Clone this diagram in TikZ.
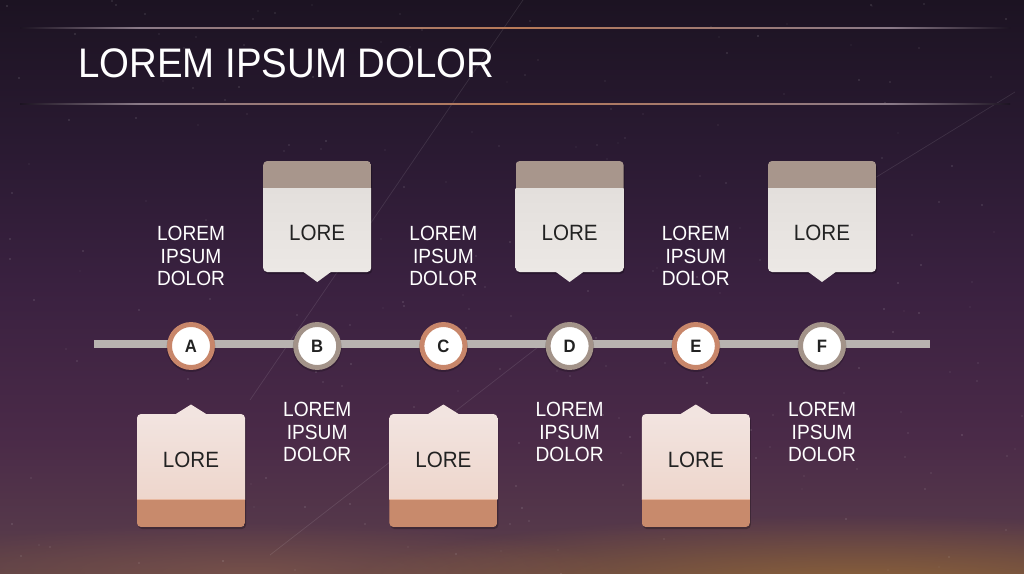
\documentclass[tikz,border=0pt]{standalone}
\usepackage{fontspec}
\setmainfont[FakeStretch=0.93]{Liberation Sans}
\usetikzlibrary{fadings}
\definecolor{bgA}{HTML}{5E4246}
\definecolor{bgB}{HTML}{55384A}
\definecolor{bgC}{HTML}{4A2A48}
\definecolor{bgD}{HTML}{3A2140}
\definecolor{bgE}{HTML}{2A1A32}
\definecolor{bgF}{HTML}{1C1322}
\definecolor{glowgold}{HTML}{B07A30}
\definecolor{glowrose}{HTML}{A06A50}
\definecolor{lineside}{HTML}{8A7A88}
\definecolor{linemid}{HTML}{B87A58}
\definecolor{barcol}{HTML}{B8B3B0}
\definecolor{ringO}{HTML}{C8866A}
\definecolor{ringG}{HTML}{A39389}
\definecolor{tophead}{HTML}{A8968C}
\definecolor{topbodyA}{HTML}{E3DFDC}
\definecolor{topbodyB}{HTML}{ECE8E5}
\definecolor{botbodyA}{HTML}{F2E4E0}
\definecolor{botbodyB}{HTML}{EED6CC}
\definecolor{botband}{HTML}{C88A6C}
\definecolor{botbandline}{HTML}{E8B8A0}
\definecolor{loretext}{HTML}{222222}
\pgfdeclareverticalshading{skybg}{100bp}{color(0bp)=(bgA); color(25bp)=(bgA); color(29bp)=(bgB); color(37bp)=(bgC); color(50bp)=(bgD); color(62bp)=(bgE); color(75bp)=(bgF); color(100bp)=(bgF)}
\pgfdeclarehorizontalshading{tline}{100bp}{color(0bp)=(bgF); color(25bp)=(bgF); color(31bp)=(lineside); color(50bp)=(linemid); color(69bp)=(lineside); color(75bp)=(bgF); color(100bp)=(bgF)}
\tikzfading[name=softglow, inner color=transparent!0, outer color=transparent!100]
\begin{document}
\begin{tikzpicture}[x=0.02cm,y=-0.02cm,
  lbl/.style={text=white, align=center, font=\fontsize{11.7}{13}\selectfont},
  lore/.style={text=loretext, font=\fontsize{12.6}{15}\selectfont},
  ringnode/.style={circle, fill=white, draw=#1, line width=2.8pt, minimum size=0.86cm, inner sep=0pt, text=loretext, font=\bfseries\fontsize{10.2}{12}\selectfont},
  bar/.style={barcol, line width=4.5pt},
  cshadow/.style={black, opacity=0.25, rounded corners=2.3pt},
  titleline/.style={shading=tline}
]
\useasboundingbox (0,0) rectangle (1024,574);
% background
\shade[shading=skybg] (0,0) rectangle (1024,574);
\fill[glowgold, opacity=0.55, path fading=softglow] (860,585) ellipse (520 and 70);
\fill[glowrose, opacity=0.35, path fading=softglow] (250,572) ellipse (380 and 50);
% stars
\pgfmathsetseed{7}
\foreach \i in {1,...,220} {
  \pgfmathsetmacro\sx{random(0,1024)}
  \pgfmathsetmacro\sy{random(0,574)}
  \pgfmathsetmacro\so{0.1+0.35*rnd}
  \fill[white, opacity=\so] (\sx,\sy) circle (0.35pt);
}
% faint streaks
\draw[white, opacity=0.10, line width=0.4pt] (523,0) -- (250,400);
\draw[white, opacity=0.10, line width=0.4pt] (270,555) -- (560,330);
\draw[white, opacity=0.10, line width=0.4pt] (1015,92) -- (790,230);
% title lines
\shade[titleline] (20,27.6) rectangle (1010,28.6);
\shade[titleline] (20,103.6) rectangle (1010,104.6);
\node[anchor=base west, text=white, inner sep=0pt, font=\fontsize{23.5}{28}\selectfont] (title) at (78,78) {LOREM IPSUM DOLOR};
% timeline bar
\coordinate (barL) at (94,344);
\coordinate (barR) at (930,344);
\draw[bar] (barL) -- (barR);
% circles
\foreach \n/\x/\c in {A/191/ringO, B/317.2/ringG, C/443.4/ringO, D/569.6/ringG, E/695.8/ringO, F/822/ringG} {
  \fill[black, opacity=0.2] (\x,347.5) circle (0.49cm);
  \node[ringnode=\c] (c\n) at (\x,346) {\n};
}
% top callouts
\foreach \n/\x in {B/317.2, D/569.6, F/822} {
  \fill[cshadow] (\x-53,163) rectangle (\x+55,274);
  \begin{scope}
    \clip[rounded corners=2.3pt] (\x-54,161) rectangle (\x+54,272);
    \fill[tophead] (\x-54,161) rectangle (\x+54,189);
    \shade[top color=topbodyA, bottom color=topbodyB] (\x-54,189) rectangle (\x+54,272);
  \end{scope}
  \fill[topbodyB] (\x-15,271) -- (\x,282) -- (\x+15,271) -- cycle;
  \node[lore] (t\n) at (\x,233) {LORE};
}
% bottom callouts
\foreach \n/\x in {A/191, C/443.4, E/695.8} {
  \fill[cshadow] (\x-53,416) rectangle (\x+55,529);
  \fill[botbodyA] (\x-16,414.5) -- (\x,404.5) -- (\x+16,414.5) -- cycle;
  \begin{scope}
    \clip[rounded corners=2.3pt] (\x-54,414) rectangle (\x+54,527);
    \shade[top color=botbodyA, bottom color=botbodyB] (\x-54,414) rectangle (\x+54,499);
    \fill[botband] (\x-54,499) rectangle (\x+54,527);
    \fill[botbandline] (\x-54,499) rectangle (\x+54,500.2);
  \end{scope}
  \node[lore] (b\n) at (\x,460) {LORE};
}
% labels
\foreach \n/\x in {A/191, C/443.4, E/695.8} {
  \node[lbl] (l\n) at (\x,256) {LOREM\\IPSUM\\DOLOR};
}
\foreach \n/\x in {B/317.2, D/569.6, F/822} {
  \node[lbl] (l\n) at (\x,432) {LOREM\\IPSUM\\DOLOR};
}
\end{tikzpicture}
\end{document}
